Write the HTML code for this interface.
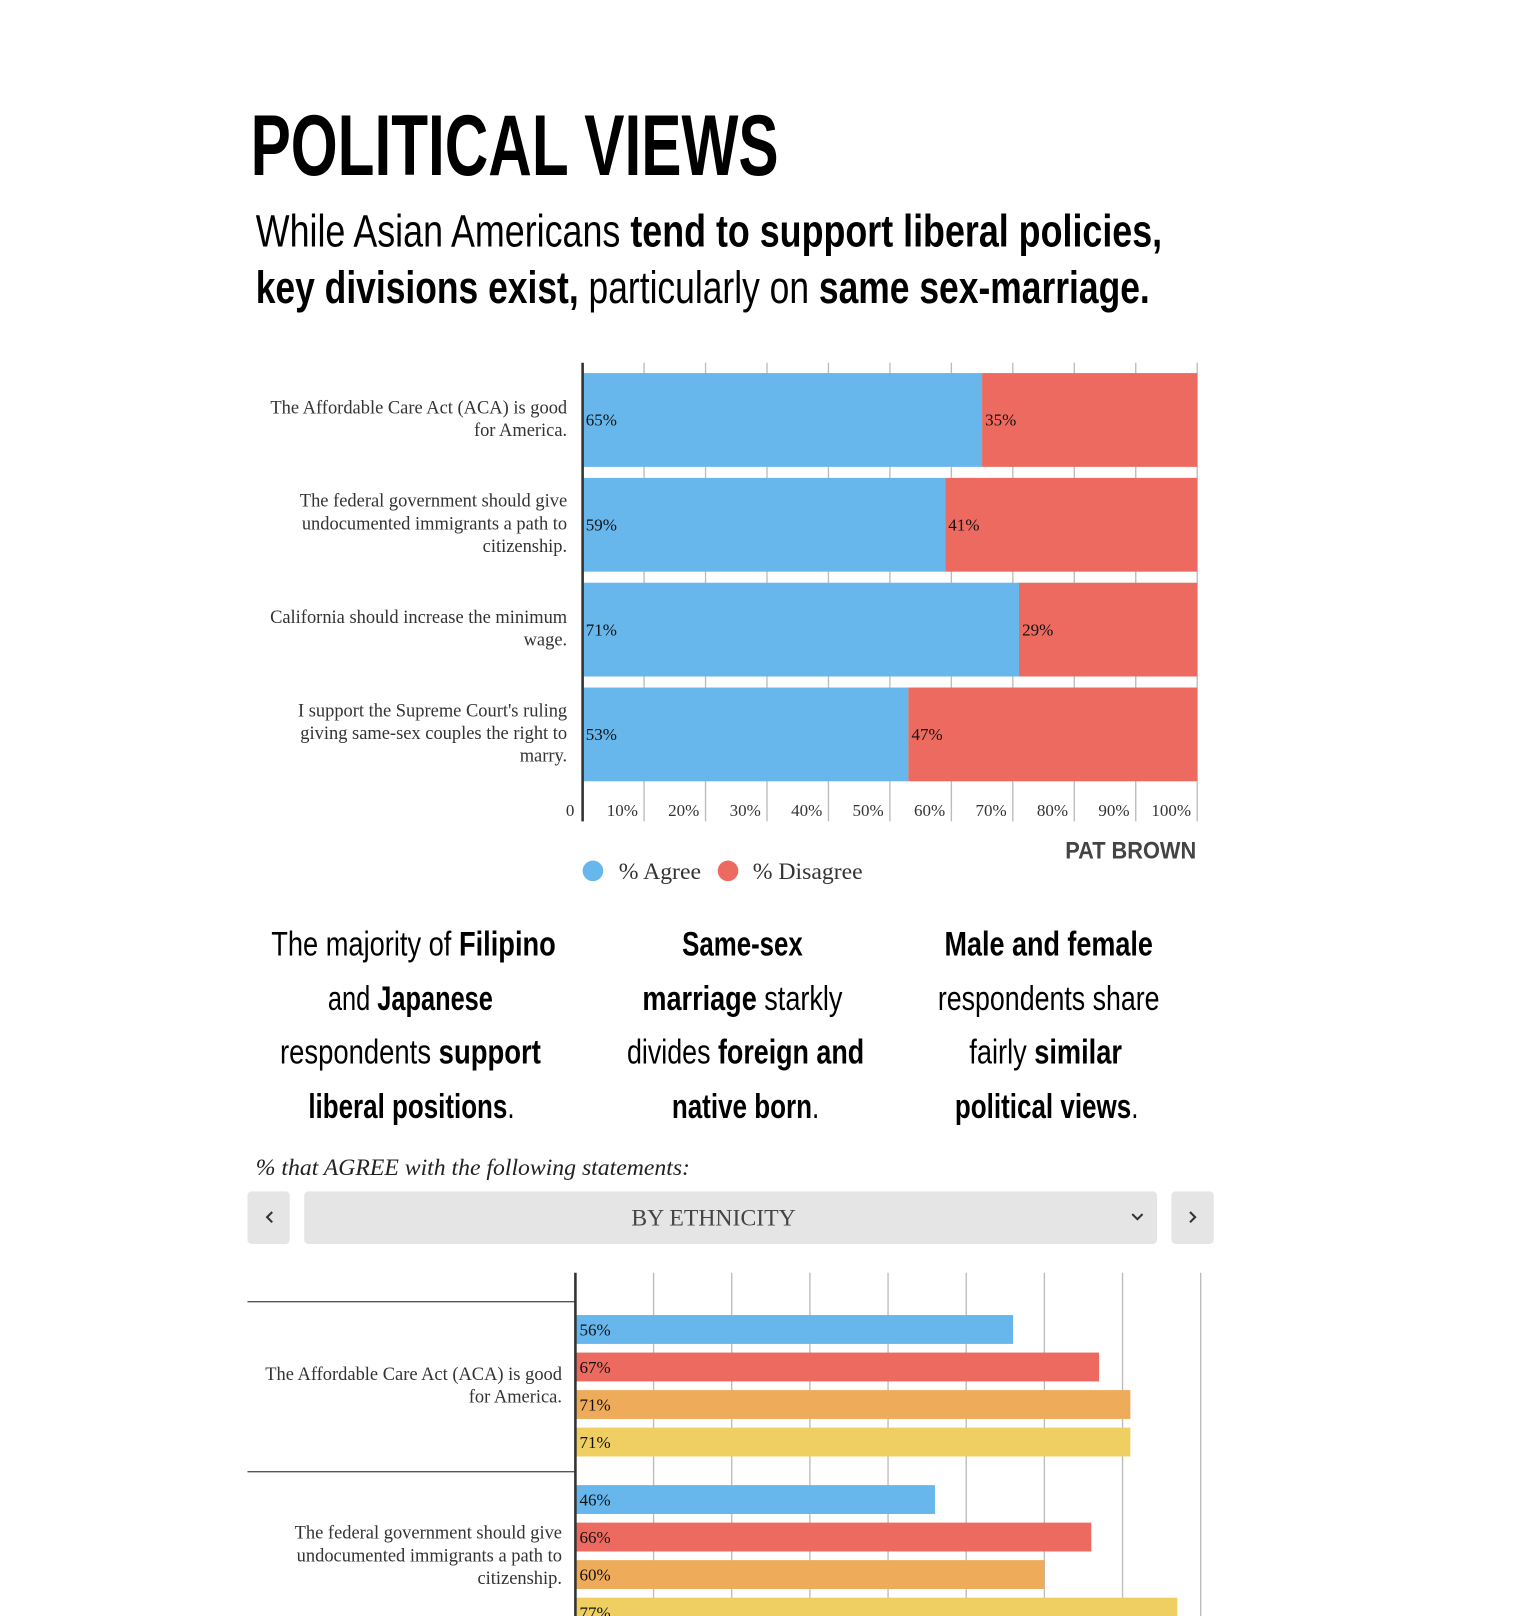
<!DOCTYPE html>
<html><head><meta charset="utf-8"><style>
html,body{margin:0;padding:0;background:#fff;width:1521px;height:1616px;overflow:hidden}
svg{display:block}
.n{font-family:"Liberation Sans Narrow","Liberation Sans",sans-serif}
.s{font-family:"Liberation Serif",serif}
.b{font-weight:bold}
</style></head><body>
<svg id="page" width="1521" height="1616" viewBox="0 0 1475 1568" preserveAspectRatio="none" xmlns="http://www.w3.org/2000/svg">
<text class="n b" x="243" y="170" font-size="84" textLength="512" lengthAdjust="spacingAndGlyphs" fill="#000">POLITICAL VIEWS</text>
<text class="n" x="248" y="239" font-size="44" textLength="879" lengthAdjust="spacingAndGlyphs" fill="#000">While Asian Americans <tspan class="b">tend to support liberal policies,</tspan></text>
<text class="n" x="248" y="294" font-size="44" textLength="867" lengthAdjust="spacingAndGlyphs" fill="#000"><tspan class="b">key divisions exist,</tspan> particularly on <tspan class="b">same sex-marriage.</tspan></text>
<g id="chart1"></g>
<g>
<circle cx="575" cy="845" r="10" fill="#67b6ec"/>
<text class="s" x="600" y="853" font-size="23" fill="#333">% Agree</text>
<circle cx="706" cy="845" r="10" fill="#ec6a5f"/>
<text class="s" x="730" y="853" font-size="23" fill="#333">% Disagree</text>
</g>
<text class="n b" x="1160" y="833" text-anchor="end" font-size="23" textLength="127" lengthAdjust="spacingAndGlyphs" fill="#444">PAT BROWN</text>
<g class="n" font-size="33" fill="#000" text-anchor="middle">
<text x="401" y="927" textLength="276" lengthAdjust="spacingAndGlyphs">The majority of <tspan class="b">Filipino</tspan></text>
<text x="398" y="980" textLength="160" lengthAdjust="spacingAndGlyphs">and <tspan class="b">Japanese</tspan></text>
<text x="398" y="1032" textLength="253" lengthAdjust="spacingAndGlyphs">respondents  <tspan class="b">support</tspan></text>
<text x="399" y="1085" textLength="200" lengthAdjust="spacingAndGlyphs"><tspan class="b">liberal positions</tspan>.</text>
</g>
<g class="n" font-size="33" fill="#000" text-anchor="middle">
<text x="720" y="927" textLength="117" lengthAdjust="spacingAndGlyphs"><tspan class="b">Same-sex</tspan></text>
<text x="720" y="980" textLength="194" lengthAdjust="spacingAndGlyphs"><tspan class="b">marriage</tspan> starkly</text>
<text x="723" y="1032" textLength="230" lengthAdjust="spacingAndGlyphs">divides <tspan class="b">foreign and</tspan></text>
<text x="723" y="1085" textLength="143" lengthAdjust="spacingAndGlyphs"><tspan class="b">native born</tspan>.</text>
</g>
<g class="n" font-size="33" fill="#000" text-anchor="middle">
<text x="1017" y="927" textLength="202" lengthAdjust="spacingAndGlyphs"><tspan class="b">Male and female</tspan></text>
<text x="1017" y="980" textLength="215" lengthAdjust="spacingAndGlyphs">respondents share</text>
<text x="1014" y="1032" textLength="148" lengthAdjust="spacingAndGlyphs">fairly <tspan class="b">similar</tspan></text>
<text x="1015" y="1085" textLength="178" lengthAdjust="spacingAndGlyphs"><tspan class="b">political views</tspan>.</text>
</g>
<text class="s" font-style="italic" x="248" y="1140" font-size="23" fill="#222">% that AGREE with the following statements:</text>
<g><rect x="240" y="1156" width="41" height="51" rx="4" fill="#e5e5e5"/><path d="M264 1176 l-5 5 l5 5" stroke="#333" stroke-width="2" fill="none"/></g>
<g><rect x="295" y="1156" width="827" height="51" rx="4" fill="#e5e5e5"/>
<text class="s" x="692" y="1189" text-anchor="middle" font-size="23" fill="#444">BY ETHNICITY</text>
<path d="M1098 1178 l5 5 l5 -5" stroke="#333" stroke-width="2" fill="none"/></g>
<g><rect x="1136" y="1156" width="41" height="51" rx="4" fill="#e5e5e5"/><path d="M1154 1176 l5 5 l-5 5" stroke="#333" stroke-width="2" fill="none"/></g>
<g id="chart2"></g>
</svg>
<script>
const NS='http://www.w3.org/2000/svg';
const statements1=[["The Affordable Care Act (ACA) is good","for America."],["The federal government should give","undocumented immigrants a path to","citizenship."],["California should increase the minimum","wage."],["I support the Supreme Court's ruling","giving same-sex couples the right to","marry."]];
const agree1=[65,59,71,53];
const disagree1=[35,41,29,47];
const ticks1=["0","10%","20%","30%","40%","50%","60%","70%","80%","90%","100%"];
const statements2=[["The Affordable Care Act (ACA) is good","for America."],["The federal government should give","undocumented immigrants a path to","citizenship."]];
const groupValues2=[[56,67,71,71],[46,66,60,77]];
const colors2=["#67b6ec","#ec6a5f","#eeab5a","#efcf62"];
function mk(tag,attrs,parent){const e=document.createElementNS(NS,tag);for(const k in attrs)e.setAttribute(k,attrs[k]);parent.appendChild(e);return e;}
// chart 1
const c1=document.getElementById('chart1');
const x1=v=>565+v*5.96;
const rowY1=i=>362+i*101.7;
for(let t=1;t<=10;t++){const l=mk('line',{x1:x1(t*10),x2:x1(t*10),y1:352,y2:797,stroke:'#bbb','stroke-width':1.3},c1);

}
ticks1.forEach((s,t)=>{const tx=mk('text',{x:t===0?557:x1(t*10)-6,y:792,'text-anchor':'end','font-size':16.5,fill:'#333',class:'s'},c1);tx.textContent=s;

});
agree1.forEach((a,i)=>{const y=rowY1(i);
const r1=mk('rect',{x:x1(0),y:y,width:x1(a)-x1(0),height:91,fill:'#67b6ec'},c1);


const r2=mk('rect',{x:x1(a),y:y,width:x1(a+disagree1[i])-x1(a),height:91,fill:'#ec6a5f'},c1);


const t1=mk('text',{x:x1(0)+3,y:y+51,'font-size':16.5,fill:'#111',class:'s'},c1);t1.textContent=a+'%';


const t2=mk('text',{x:x1(a)+3,y:y+51,'font-size':16.5,fill:'#111',class:'s'},c1);t2.textContent=disagree1[i]+'%';


const lines=statements1[i];const cy=y+45;const start=cy-(lines.length-1)*11+5;
lines.forEach((ln,j)=>{const lt=mk('text',{x:550,y:start+j*22,'text-anchor':'end','font-size':17.9,fill:'#333',class:'s'},c1);lt.textContent=ln;

});});
const ax=mk('line',{x1:565,x2:565,y1:352,y2:797,stroke:'#333','stroke-width':2.5},c1);


// chart 2
const c2=document.getElementById('chart2');
const x2=v=>558+v*7.58;
for(let t=1;t<=8;t++){const l=mk('line',{x1:x2(t*10),x2:x2(t*10),y1:1235,y2:1568,stroke:'#bbb','stroke-width':1.3},c2);

}
groupValues2.forEach((vals,g)=>{const gy=1263+g*165;
const sep=mk('line',{x1:240,x2:558,y1:gy,y2:gy,stroke:'#555','stroke-width':1.3},c2);


vals.forEach((v,k)=>{const y=gy+13+k*36.4;
const r=mk('rect',{x:x2(0),y:y,width:x2(v)-x2(0),height:28,fill:colors2[k]},c2);


const t=mk('text',{x:x2(0)+4,y:y+20,'font-size':16.5,fill:'#111',class:'s'},c2);t.textContent=v+'%';

});
const lines=statements2[g];const cy=gy+82;const start=cy-(lines.length-1)*11+5;
lines.forEach((ln,j)=>{const lt=mk('text',{x:545,y:start+j*22,'text-anchor':'end','font-size':17.9,fill:'#333',class:'s'},c2);lt.textContent=ln;

});});
const ax2=mk('line',{x1:558,x2:558,y1:1235,y2:1568,stroke:'#333','stroke-width':2.5},c2);


</script>
</body></html>
